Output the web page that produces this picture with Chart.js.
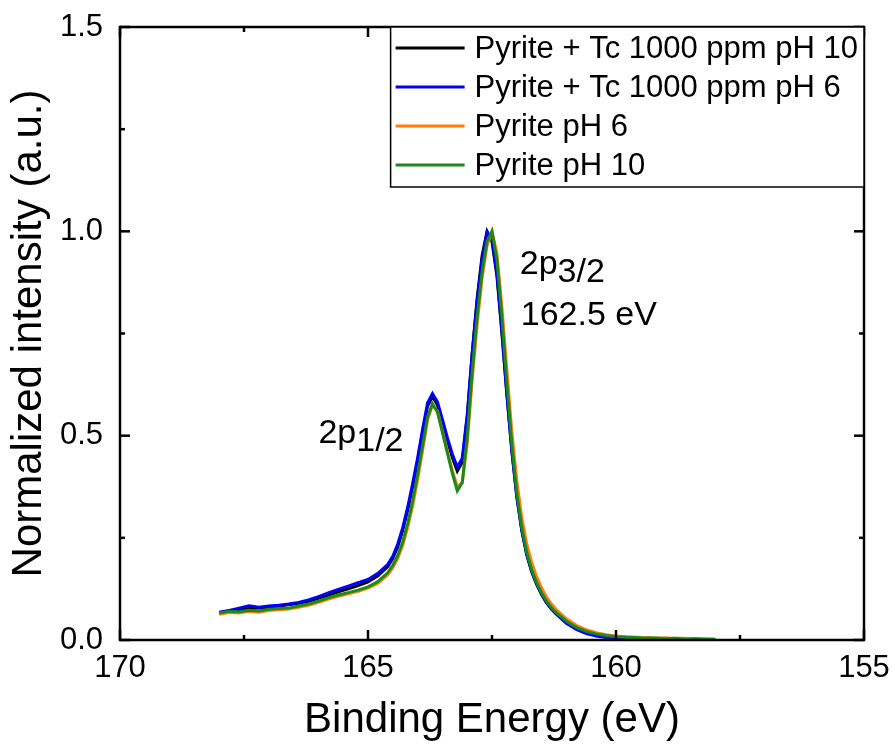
<!DOCTYPE html>
<html><head><meta charset="utf-8">
<script src="https://cdn.jsdelivr.net/npm/chart.js@4.4.0/dist/chart.umd.min.js"></script>
<style>html,body{margin:0;padding:0;background:#fff}canvas{display:block}</style>
</head><body>
<canvas id="c" width="895" height="755"></canvas>
<script>
// ---- data ----
const energies = [168.0,167.8,167.6,167.4,167.2,167.0,166.8,166.6,166.4,166.2,166.0,165.8,165.6,165.4,165.2,165.0,164.8,164.6,
164.5,164.4,164.3,164.2,164.1,164.0,163.9,163.8,163.7,163.6,163.5,163.4,163.3,163.2,163.1,163.0,162.9,162.8,162.7,162.6,162.5,162.4,162.3,162.2,162.1,162.0,161.9,161.8,161.7,161.6,161.5,161.4,161.3,161.2,
161.0,160.8,160.6,160.4,160.2,160.0,159.8,159.6,159.4,159.2,159.0,158.8,158.6,158.4,158.2,158.0];

const seriesLabels = ['Pyrite + Tc 1000 ppm pH 10','Pyrite + Tc 1000 ppm pH 6','Pyrite pH 6','Pyrite pH 10'];

const tcPH10 = [0.067,0.071,0.074,0.077,0.078,0.080,0.083,0.086,0.090,0.095,0.102,0.110,0.118,0.125,0.133,0.142,0.157,0.180,
0.200,0.228,0.268,0.318,0.375,0.438,0.508,0.572,0.595,0.575,0.532,0.487,0.447,0.413,0.435,0.545,0.700,0.835,0.940,1.000,0.975,0.890,0.750,0.600,0.462,0.350,0.268,0.209,0.167,0.136,0.111,0.091,0.076,0.063,
0.042,0.028,0.018,0.012,0.008,0.006,0.005,0.004,0.006,0.003,0.004,0.002,0.002,0.002,0.001,0.001];

const tcPH6 = [0.068,0.072,0.078,0.084,0.080,0.083,0.085,0.088,0.092,0.098,0.106,0.115,0.124,0.132,0.140,0.148,0.163,0.185,
0.205,0.235,0.275,0.325,0.383,0.445,0.515,0.580,0.603,0.583,0.540,0.495,0.455,0.423,0.445,0.550,0.700,0.830,0.932,0.998,0.980,0.897,0.756,0.603,0.464,0.352,0.270,0.210,0.168,0.137,0.112,0.092,0.076,0.063,
0.041,0.026,0.016,0.010,0.006,0.004,0.003,0.002,0.002,0.001,0.002,0.001,0.001,0.001,0.001,0.001];

const pyPH6 = [0.063,0.067,0.066,0.070,0.068,0.072,0.074,0.076,0.080,0.085,0.092,0.100,0.107,0.113,0.119,0.127,0.139,0.160,
0.177,0.200,0.232,0.275,0.328,0.392,0.463,0.538,0.575,0.560,0.512,0.463,0.415,0.375,0.385,0.480,0.635,0.772,0.885,0.965,1.000,0.945,0.815,0.660,0.510,0.390,0.300,0.235,0.190,0.155,0.127,0.105,0.088,0.074,
0.052,0.036,0.025,0.018,0.013,0.010,0.008,0.007,0.006,0.005,0.005,0.004,0.004,0.003,0.003,0.002];

const pyPH10 = [0.066,0.070,0.069,0.073,0.071,0.075,0.077,0.078,0.083,0.088,0.095,0.103,0.110,0.116,0.122,0.130,0.143,0.165,
0.183,0.207,0.240,0.285,0.340,0.405,0.475,0.545,0.578,0.558,0.508,0.458,0.408,0.365,0.385,0.495,0.655,0.790,0.900,0.975,1.000,0.930,0.790,0.630,0.480,0.360,0.275,0.215,0.172,0.140,0.115,0.095,0.079,0.066,
0.046,0.031,0.021,0.015,0.011,0.008,0.007,0.006,0.004,0.005,0.003,0.004,0.002,0.003,0.002,0.002];

const xMajorTicks = [170,165,160,155];
const xMinorTicks = [167.5,162.5,157.5];
const yMajorTicks = [0,0.5,1.0,1.5];
const yMinorTicks = [0.25,0.75,1.25];

// ---- styles ----
const FONT = "'Liberation Sans', Arial, sans-serif";
const colors = ['#000000','#0000ff','#ff7f0e','#1a8a1a'];
const seriesValues = [tcPH10, tcPH6, pyPH6, pyPH10];
const orders = [4,3,2,1];

const datasets = seriesValues.map((vals, i) => ({
  label: seriesLabels[i],
  data: energies.map((e, k) => ({x: e, y: vals[k]})),
  borderColor: colors[i],
  backgroundColor: colors[i],
  borderWidth: 3,
  pointRadius: 0,
  tension: 0,
  fill: false,
  order: orders[i]
}));

const decor = {
  id: 'decor',
  afterDatasetsDraw(chart) {
    const {ctx, chartArea: a, scales: {x, y}} = chart;
    ctx.save();
    ctx.strokeStyle = '#000';
    ctx.lineCap = 'butt';
    const line = (x1,y1,x2,y2) => { ctx.beginPath(); ctx.moveTo(x1,y1); ctx.lineTo(x2,y2); ctx.stroke(); };
    // ticks (inward, all sides)
    ctx.lineWidth = 2.5;
    xMajorTicks.forEach(v => { const p = x.getPixelForValue(v); line(p,a.bottom,p,a.bottom-10); line(p,a.top,p,a.top+10); });
    xMinorTicks.forEach(v => { const p = x.getPixelForValue(v); line(p,a.bottom,p,a.bottom-5); line(p,a.top,p,a.top+5); });
    yMajorTicks.forEach(v => { const p = y.getPixelForValue(v); line(a.left,p,a.left+10,p); line(a.right,p,a.right-10,p); });
    yMinorTicks.forEach(v => { const p = y.getPixelForValue(v); line(a.left,p,a.left+5,p); line(a.right,p,a.right-5,p); });
    // frame
    ctx.strokeRect(a.left, a.top, a.right - a.left, a.bottom - a.top);

    // annotations
    ctx.fillStyle = '#000';
    ctx.textBaseline = 'alphabetic';
    ctx.textAlign = 'left';
    ctx.font = '34px ' + FONT;
    const sub = (main, s, ex, ey) => {
      const px = x.getPixelForValue(ex), py = y.getPixelForValue(ey);
      ctx.fillText(main, px, py);
      const w = ctx.measureText(main).width;
      ctx.fillText(s, px + w, py + 8);
    };
    sub('2p', '3/2', 161.94, 0.895);
    ctx.fillText('162.5 eV', x.getPixelForValue(161.92), y.getPixelForValue(0.772));
    sub('2p', '1/2', 166.0, 0.483);

    // legend
    ctx.font = '31px ' + FONT;
    const sets = chart.data.datasets;
    const textW = Math.max(...sets.map(d => ctx.measureText(d.label).width));
    const padL = 5, lineLen = 69, gap = 10, padR = 6, rowH = 39;
    const bw = padL + lineLen + gap + textW + padR;
    const bh = 160;
    const bx = a.right - bw, by = a.top;
    ctx.fillStyle = '#fff';
    ctx.fillRect(bx, by, bw, bh);
    ctx.lineWidth = 1.5;
    ctx.strokeStyle = '#000';
    ctx.strokeRect(bx, by, bw, bh);
    ctx.textBaseline = 'middle';
    sets.forEach((d, i) => {
      const cy = by + 21 + i * rowH;
      ctx.strokeStyle = d.borderColor;
      ctx.lineWidth = 3;
      line(bx + padL, cy, bx + padL + lineLen, cy);
      ctx.fillStyle = '#000';
      ctx.fillText(d.label, bx + padL + lineLen + gap, cy + 1);
    });
    ctx.restore();
  }
};

new Chart(document.getElementById('c').getContext('2d'), {
  type: 'line',
  data: { datasets },
  plugins: [decor],
  options: {
    responsive: false,
    animation: false,
    events: [],
    layout: { padding: { top: 27, right: 31, left: 0, bottom: 0 } },
    plugins: { legend: { display: false }, tooltip: { enabled: false } },
    scales: {
      x: {
        type: 'linear', reverse: true, min: 155, max: 170,
        afterBuildTicks: s => { s.ticks = xMajorTicks.map(v => ({value: v})); },
        afterFit: s => { s.height = 115; s.paddingLeft = 0; s.paddingRight = 0; },
        grid: { display: false, drawTicks: false },
        border: { display: false },
        ticks: { color: '#000', font: { family: FONT, size: 31 }, padding: 10, maxRotation: 0, callback: v => String(v) },
        title: { display: true, text: 'Binding Energy (eV)', color: '#000', font: { family: FONT, size: 42, lineHeight: 1.2 }, padding: { top: 0, bottom: 9 } }
      },
      y: {
        type: 'linear', min: 0, max: 1.5,
        afterBuildTicks: s => { s.ticks = yMajorTicks.map(v => ({value: v})); },
        afterFit: s => { s.width = 120; s.paddingTop = 0; s.paddingBottom = 0; },
        grid: { display: false, drawTicks: false },
        border: { display: false },
        ticks: { color: '#000', font: { family: FONT, size: 31 }, padding: 17, callback: v => v.toFixed(1) },
        title: { display: true, text: 'Normalized intensity (a.u.)', color: '#000', font: { family: FONT, size: 42, lineHeight: 1.2 }, padding: { top: 4, bottom: 0 } }
      }
    }
  }
});
</script>
</body></html>
